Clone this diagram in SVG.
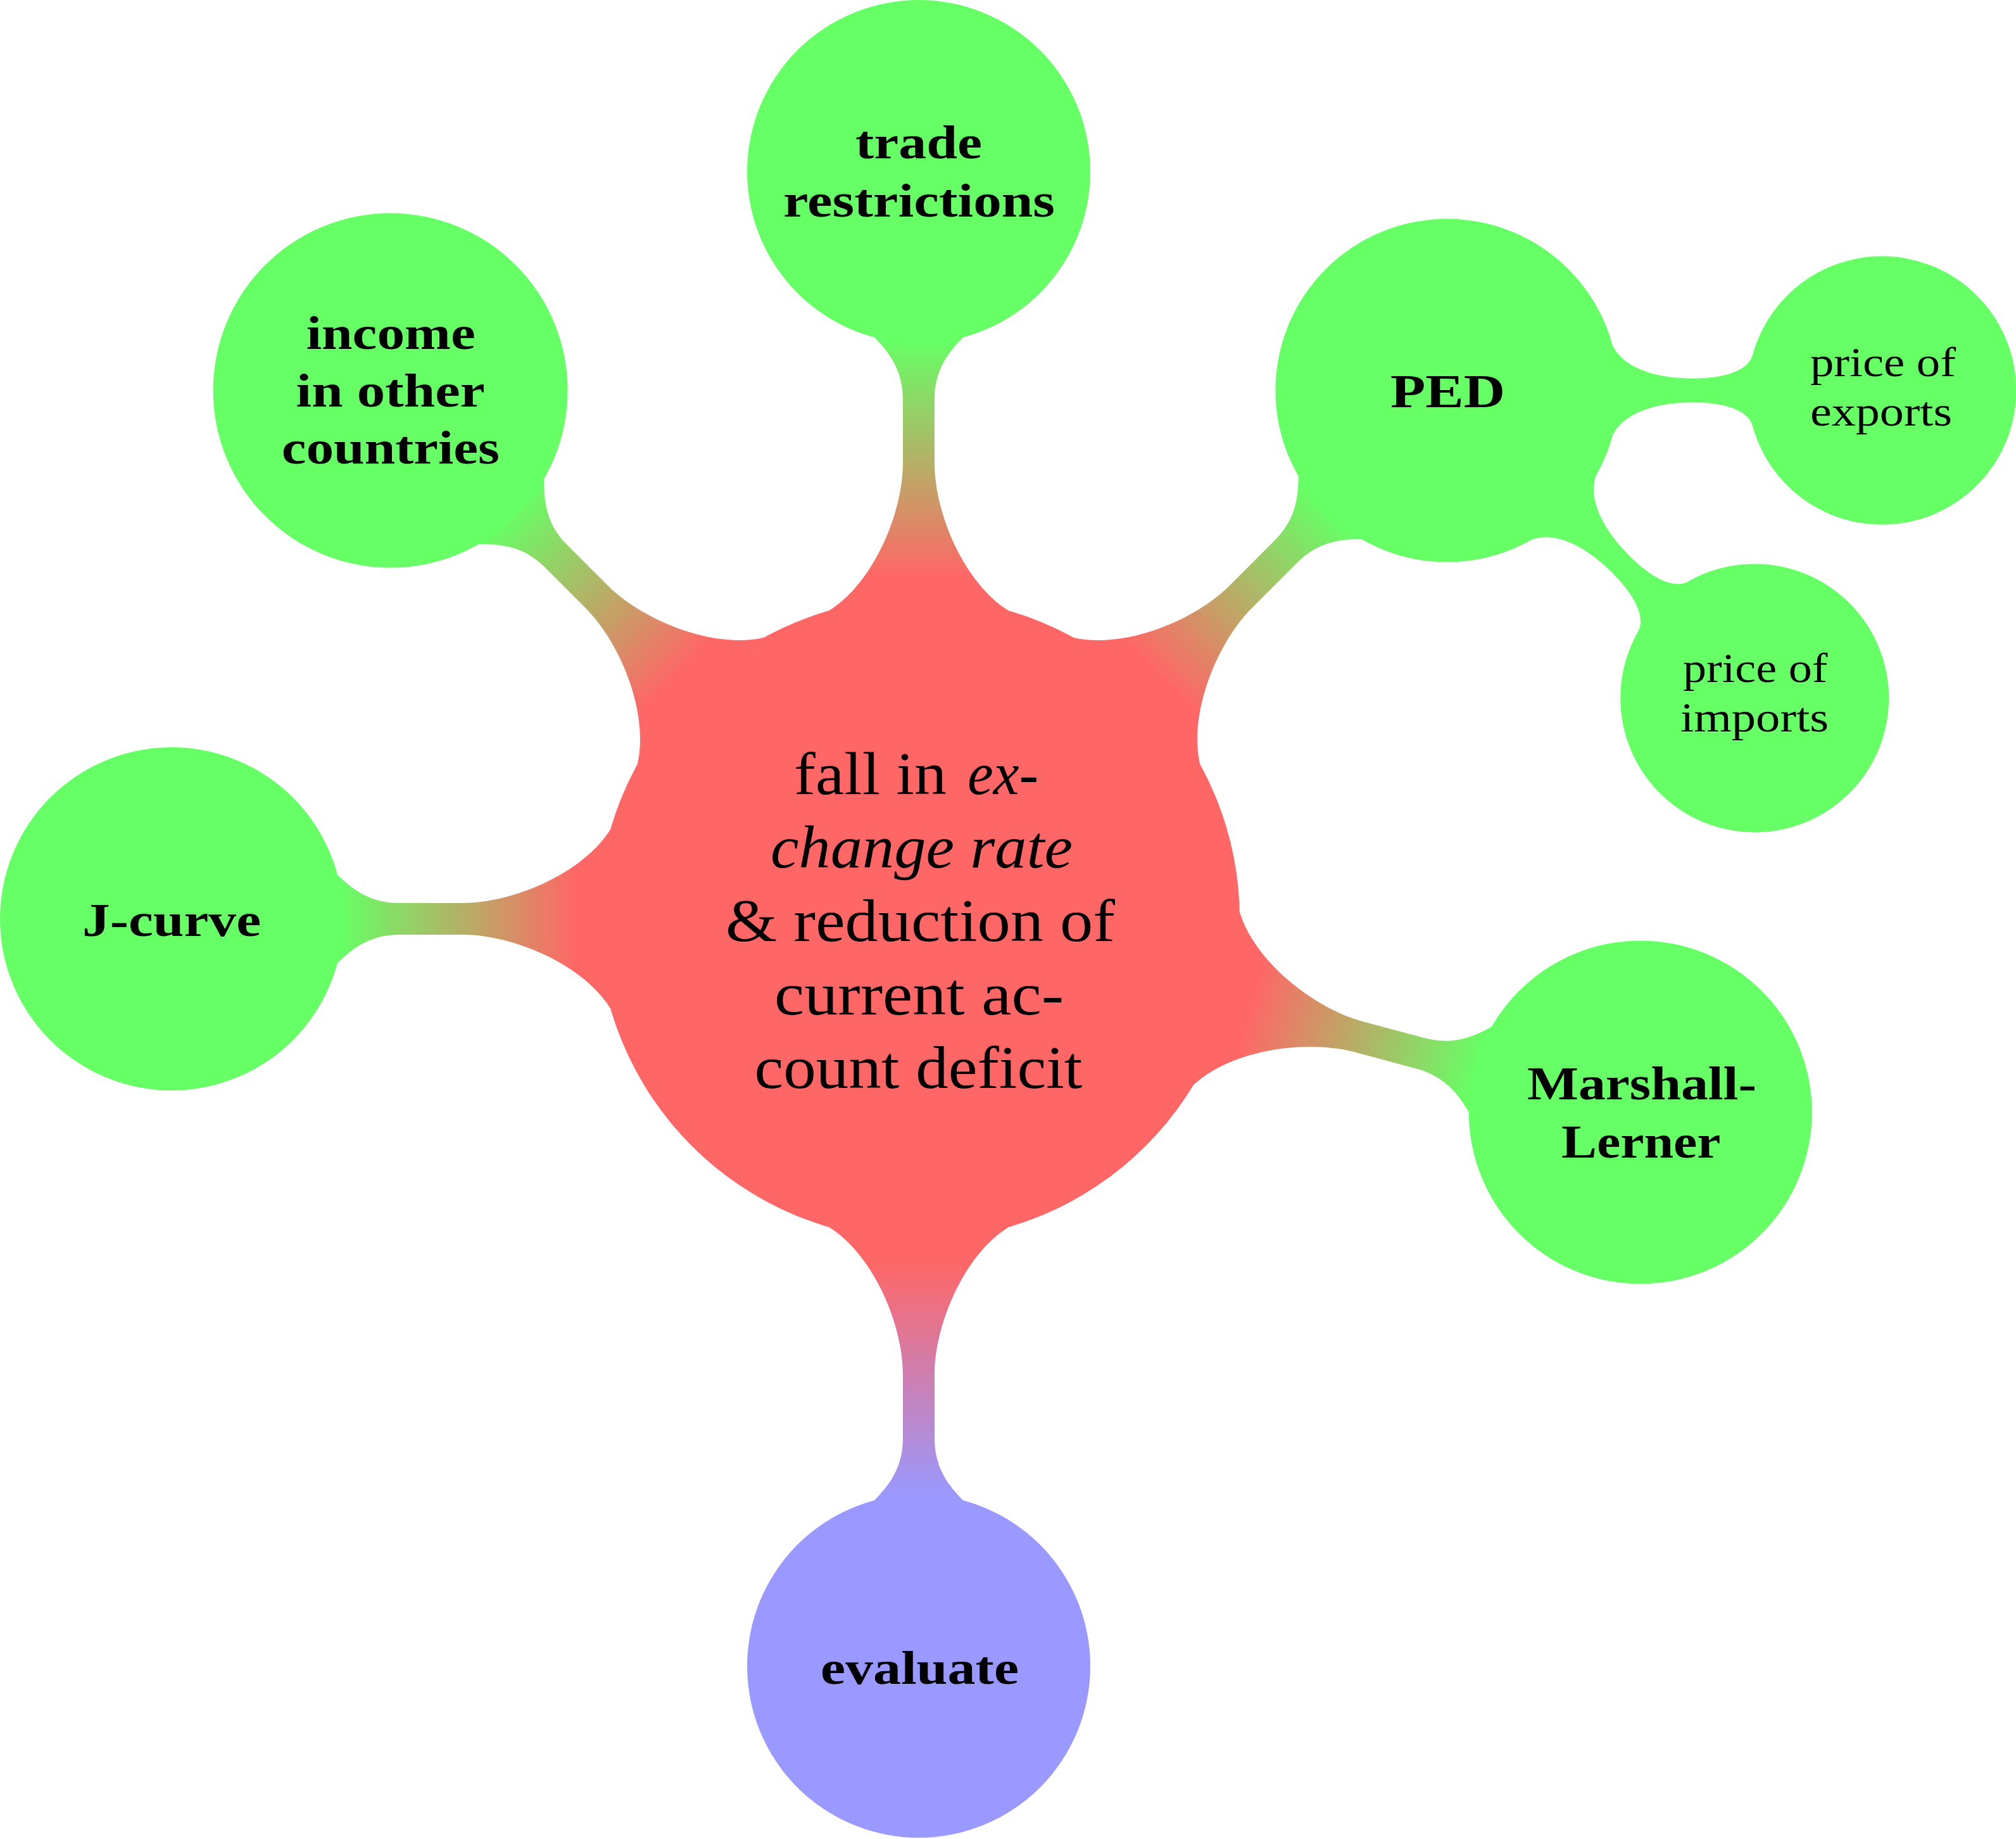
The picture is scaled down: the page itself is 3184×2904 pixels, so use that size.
<svg xmlns="http://www.w3.org/2000/svg" width="3184" height="2904" viewBox="0 0 3184 2904">
<style>
.bg{fill:#ffffff}
.root{fill:#ff6666}
.green{fill:#66ff66}
.blue{fill:#9999ff}
.t1{font-family:"Liberation Serif","Times New Roman",serif;font-weight:bold;font-size:74px;fill:#000}
.t2{font-family:"Liberation Serif","Times New Roman",serif;font-size:66px;fill:#000}
.t0{font-family:"Liberation Serif","Times New Roman",serif;font-size:96px;fill:#000}
.it{font-style:italic}
</style>
<defs>
<linearGradient id="gRG" gradientUnits="userSpaceOnUse" x1="540" y1="0" x2="915" y2="0">
<stop offset="0" stop-color="#ff6666"/><stop offset="1" stop-color="#66ff66"/>
</linearGradient>
<linearGradient id="gRB" gradientUnits="userSpaceOnUse" x1="540" y1="0" x2="915" y2="0">
<stop offset="0" stop-color="#ff6666"/><stop offset="1" stop-color="#9999ff"/>
</linearGradient>
<path id="bar1" d="M 0 0 L 486.9 -141.4 C 530 -72 640 -25 720 -25 L 820 -25 C 865 -25 893 -45 918.2 -70.1 L 1180 0 L 918.2 70.1 C 893 45 865 25 820 25 L 720 25 C 640 25 530 72 486.9 141.4 Z"/>
<path id="bar1b" d="M 0 0 L 486.9 -141.4 C 530 -72 640 -25 720 -25 L 812 -25 C 857 -25 885 -48 909.5 -72.5 L 1180 0 L 909.5 72.5 C 885 48 857 25 812 25 L 720 25 C 640 25 530 72 486.9 141.4 Z"/>
<path id="bar2" d="M 0 0 L 261.8 -70.1 C 280 -35 330 -19 388 -19 C 440 -19 475 -32 482.2 -54.9 L 687 0 L 482.2 54.9 C 475 32 440 19 388 19 C 330 19 280 35 261.8 70.1 Z"/>
</defs>
<rect class="bg" x="0" y="0" width="3184" height="2904"/>
<g id="connectors">
<use href="#bar1" fill="url(#gRG)" transform="translate(1451 1451) rotate(-90)"/>
<use href="#bar1b" fill="url(#gRG)" transform="translate(1451 1451) rotate(-135)"/>
<use href="#bar1" fill="url(#gRG)" transform="translate(1451 1451) rotate(-45)"/>
<use href="#bar1" fill="url(#gRG)" transform="translate(1451 1451) rotate(15)"/>
<use href="#bar1" fill="url(#gRG)" transform="translate(1451 1451) rotate(180)"/>
<use href="#bar1" fill="url(#gRB)" transform="translate(1451 1451) rotate(90)"/>
<use href="#bar2" fill="#66ff66" transform="translate(2285.4 616.6)"/>
<use href="#bar2" fill="#66ff66" transform="translate(2285.4 616.6) rotate(45)"/>
</g>
<g id="node-root">
<circle class="root" cx="1451" cy="1451" r="507"/>
<text class="t0" x="1254" y="1254" textLength="241" lengthAdjust="spacingAndGlyphs">fall in</text>
<text class="t0 it" x="1528" y="1254" textLength="112" lengthAdjust="spacingAndGlyphs">ex-</text>
<text class="t0 it" x="1217" y="1370" textLength="477" lengthAdjust="spacingAndGlyphs">change rate</text>
<text class="t0" x="1146" y="1486" textLength="615" lengthAdjust="spacingAndGlyphs">&amp; reduction of</text>
<text class="t0" x="1223" y="1602" textLength="457" lengthAdjust="spacingAndGlyphs">current ac-</text>
<text class="t0" x="1191.5" y="1718" textLength="518" lengthAdjust="spacingAndGlyphs">count deficit</text>
</g>
<g id="node-trade">
<circle class="green" cx="1451" cy="271" r="271"/>
<text class="t1" x="1351" y="250" textLength="200" lengthAdjust="spacingAndGlyphs">trade</text>
<text class="t1" x="1237" y="342" textLength="429" lengthAdjust="spacingAndGlyphs">restrictions</text>
</g>
<g id="node-income">
<circle class="green" cx="616.6" cy="616.6" r="280"/>
<text class="t1" x="483.7" y="551" textLength="267" lengthAdjust="spacingAndGlyphs">income</text>
<text class="t1" x="467.6" y="641.6" textLength="298.4" lengthAdjust="spacingAndGlyphs">in other</text>
<text class="t1" x="444.7" y="731.7" textLength="344.3" lengthAdjust="spacingAndGlyphs">countries</text>
</g>
<g id="node-ped">
<circle class="green" cx="2285.4" cy="616.6" r="271"/>
<text class="t1" x="2196" y="643" textLength="181" lengthAdjust="spacingAndGlyphs">PED</text>
</g>
<g id="node-exports">
<circle class="green" cx="2972.4" cy="616.6" r="212"/>
<text class="t2" x="2859" y="593.6" textLength="230" lengthAdjust="spacingAndGlyphs">price of</text>
<text class="t2" x="2859" y="672" textLength="224" lengthAdjust="spacingAndGlyphs">exports</text>
</g>
<g id="node-imports">
<circle class="green" cx="2771.2" cy="1102.4" r="212"/>
<text class="t2" x="2658" y="1077" textLength="228.5" lengthAdjust="spacingAndGlyphs">price of</text>
<text class="t2" x="2654" y="1155" textLength="234" lengthAdjust="spacingAndGlyphs">imports</text>
</g>
<g id="node-marshall">
<circle class="green" cx="2590.8" cy="1756.4" r="271"/>
<text class="t1" x="2412" y="1736" textLength="362" lengthAdjust="spacingAndGlyphs">Marshall-</text>
<text class="t1" x="2466" y="1828" textLength="251.6" lengthAdjust="spacingAndGlyphs">Lerner</text>
</g>
<g id="node-jcurve">
<circle class="green" cx="271" cy="1451" r="271"/>
<text class="t1" x="130" y="1477.5" textLength="282" lengthAdjust="spacingAndGlyphs">J-curve</text>
</g>
<g id="node-evaluate">
<circle class="blue" cx="1451" cy="2631" r="271"/>
<text class="t1" x="1296" y="2659" textLength="313" lengthAdjust="spacingAndGlyphs">evaluate</text>
</g>
</svg>
